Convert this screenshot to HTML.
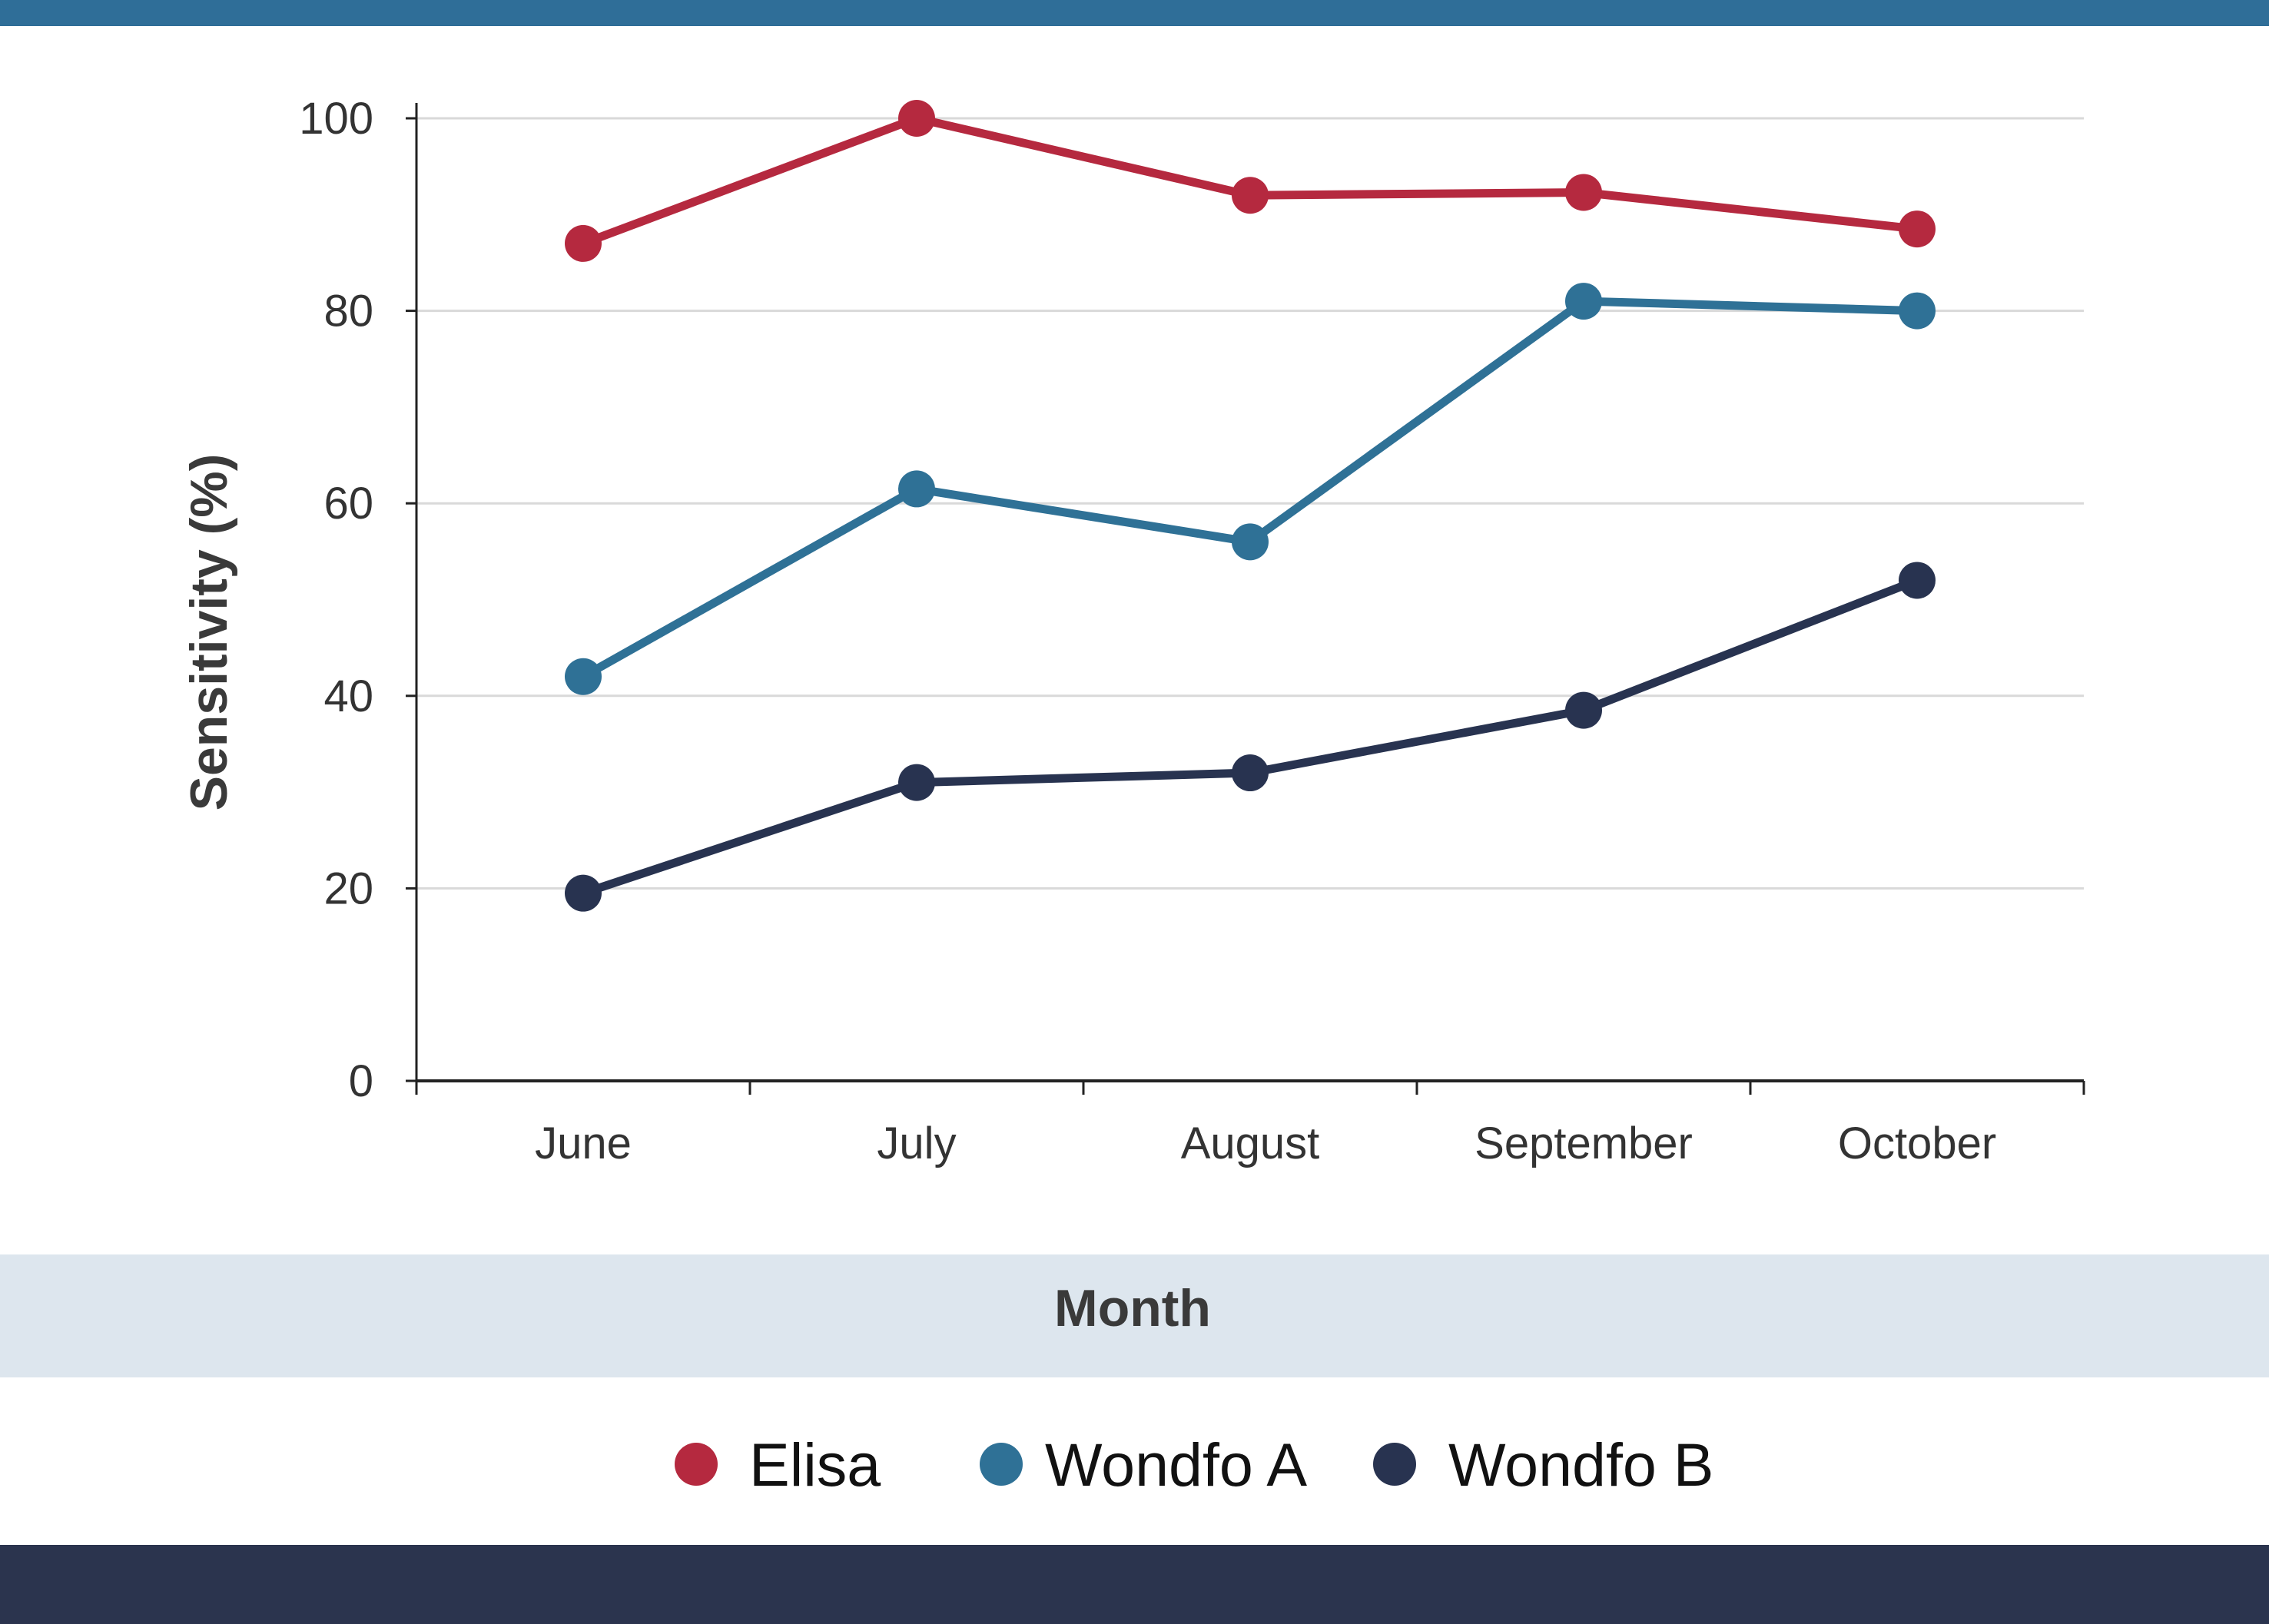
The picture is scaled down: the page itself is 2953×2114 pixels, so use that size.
<!DOCTYPE html>
<html><head><meta charset="utf-8"><style>
html,body{margin:0;padding:0;background:#fff;}
svg{display:block;}
text{font-family:"Liberation Sans",sans-serif;}
</style></head><body>
<svg id="chart" width="2953" height="2114" viewBox="0 0 2953 2114">
<rect x="0" y="0" width="2953" height="34" fill="#2f6e98"/>
<rect x="0" y="1633" width="2953" height="160" fill="#dde6ee"/>
<text x="1474" y="1726" font-size="68" font-weight="bold" fill="#3a3a3a" text-anchor="middle">Month</text>
<rect x="0" y="2011" width="2953" height="103" fill="#2b344e"/>
<text transform="translate(295,823) rotate(-90)" font-size="68" font-weight="bold" fill="#3a3a3a" text-anchor="middle">Sensitivity (%)</text>
<g id="grid"></g><g id="axes"></g><g id="series"></g>
<g>
<circle cx="906" cy="1906" r="28" fill="#b5293f"/>
<text x="975" y="1934" font-size="79" fill="#111">Elisa</text>
<circle cx="1303" cy="1906" r="28" fill="#2f7196"/>
<text x="1360" y="1934" font-size="79" fill="#111">Wondfo A</text>
<circle cx="1815" cy="1906" r="28" fill="#283350"/>
<text x="1885" y="1934" font-size="79" fill="#111">Wondfo B</text>
</g>
</svg>
<script>
const categories=["June","July","August","September","October"];
const elisa=[87,100,92,92.3,88.5];
const wondfoA=[42,61.5,56,81,80];
const wondfoB=[19.5,31,32,38.5,52];
const yTicks=[0,20,40,60,80,100];
const NS="http://www.w3.org/2000/svg";
const L=542,R=2712,Y0=1407,Y1=154;
const bw=(R-L)/categories.length;
const xs=i=>L+bw*(i+0.5);
const ys=v=>Y0-(v/100)*(Y0-Y1);
function mk(tag,attrs,parent){const e=document.createElementNS(NS,tag);for(const k in attrs)e.setAttribute(k,attrs[k]);parent.appendChild(e);return e;}
const grid=document.getElementById('grid'),axes=document.getElementById('axes'),ser=document.getElementById('series');
yTicks.forEach(t=>{
 if(t>0){const g=mk('line',{x1:L,x2:R,y1:ys(t),y2:ys(t),stroke:'#d9d9d9','stroke-width':3},grid);
 
 }
 const tk=mk('line',{x1:L-14,x2:L,y1:ys(t),y2:ys(t),stroke:'#222','stroke-width':3},axes);
 
 
 const tx=mk('text',{x:486,y:ys(t)+20,'font-size':58,fill:'#333','text-anchor':'end'},axes);
 tx.textContent=t;
 
 
});
const ya=mk('line',{x1:L,x2:L,y1:Y1-20,y2:Y0,stroke:'#222','stroke-width':3},axes);


const xa=mk('line',{x1:L,x2:R,y1:Y0,y2:Y0,stroke:'#222','stroke-width':4},axes);


for(let i=0;i<=categories.length;i++){
 const t=mk('line',{x1:L+bw*i,x2:L+bw*i,y1:Y0,y2:Y0+18,stroke:'#222','stroke-width':3},axes);
 
 
}
categories.forEach((c,i)=>{
 const t=mk('text',{x:xs(i),y:1508,'font-size':58,fill:'#333','text-anchor':'middle'},axes);
 t.textContent=c;
 
 
});
[[elisa,'#b5293f','elisa'],[wondfoA,'#2f7196','wondfo-a'],[wondfoB,'#283350','wondfo-b']].forEach(([d,col,n])=>{
 const p=mk('polyline',{points:d.map((v,i)=>xs(i)+','+ys(v)).join(' '),fill:'none',stroke:col,'stroke-width':11,'stroke-linejoin':'round'},ser);
 
 
 d.forEach((v,i)=>{
  const c=mk('circle',{cx:xs(i),cy:ys(v),r:24,fill:col},ser);
  
  
 });
});
</script>
</body></html>
